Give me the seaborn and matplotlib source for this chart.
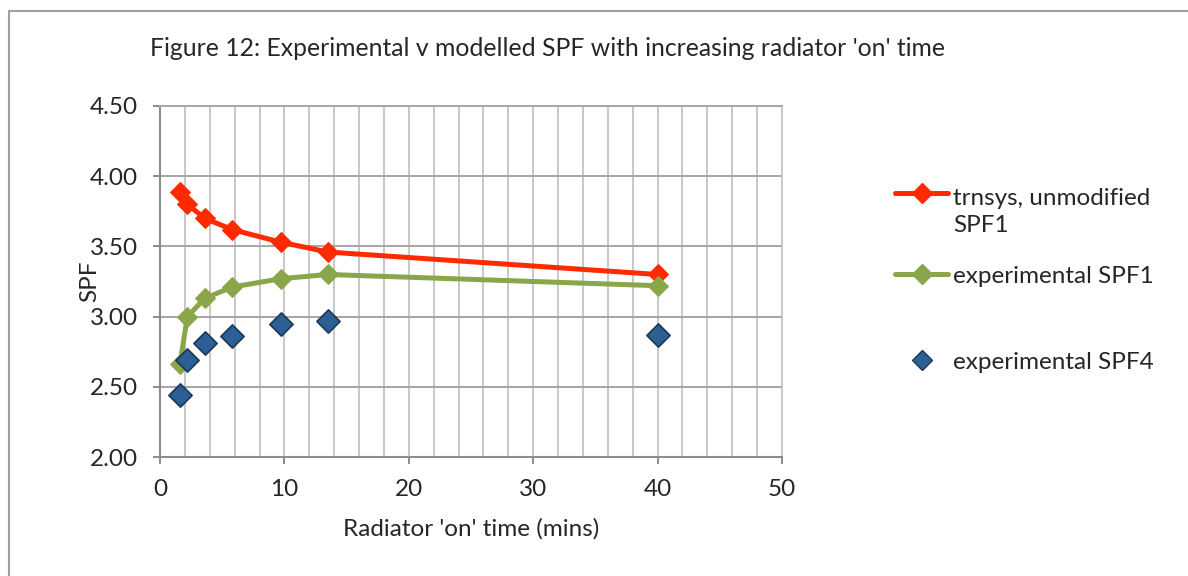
import pandas as pd
import matplotlib.pyplot as plt
from matplotlib.lines import Line2D
from matplotlib.legend_handler import HandlerLine2D
from matplotlib.ticker import MultipleLocator, FormatStrFormatter
import seaborn as sns

sns.set_style("white")
plt.rcParams['font.family'] = ['Lato', 'DejaVu Sans']

# values
on_time = [1.6, 2.2, 3.6, 5.8, 9.7, 13.5, 40.0]
trnsys_spf1 = [3.89, 3.80, 3.70, 3.62, 3.53, 3.46, 3.30]
exp_spf1 = [2.66, 3.00, 3.13, 3.21, 3.27, 3.30, 3.22]
exp_spf4 = [2.44, 2.69, 2.81, 2.86, 2.95, 2.97, 2.87]

labels = ["trnsys, unmodified\nSPF1", "experimental SPF1", "experimental SPF4"]
red, green = "#ff2a00", "#8aa64a"
blue_face, blue_edge = "#2c5f94", "#1b3856"
FS = 17.5


class TopLineHandler(HandlerLine2D):
    # puts the legend key level with the first line of a two-line label
    def __init__(self, shift, **kw):
        super().__init__(**kw)
        self.shift = shift

    def create_artists(self, legend, orig_handle, xdescent, ydescent,
                       width, height, fontsize, trans):
        return super().create_artists(legend, orig_handle, xdescent,
                                      ydescent - 2 * self.shift, width, height,
                                      fontsize, trans)


df = pd.DataFrame({"time": on_time, "trnsys": trnsys_spf1,
                   "spf1": exp_spf1, "spf4": exp_spf4})

W, H = 1188, 576
fig = plt.figure(figsize=(W / 100, H / 100), dpi=100)
ax = fig.add_axes([160 / W, 1 - 457 / H, (782 - 160) / W, (457 - 106) / H])

sns.lineplot(data=df, x="time", y="trnsys", ax=ax, color=red, lw=3.6,
             marker="D", markersize=10, markeredgecolor=red, zorder=3)
sns.lineplot(data=df, x="time", y="spf1", ax=ax, color=green, lw=3.6,
             marker="D", markersize=10, markeredgecolor=green, zorder=3)
sns.scatterplot(data=df, x="time", y="spf4", ax=ax, marker="D", s=140,
                color=blue_face, edgecolor=blue_edge, linewidth=1.2, zorder=4)

ax.set_xlim(0, 50)
ax.set_ylim(2, 4.5)
ax.xaxis.set_major_locator(MultipleLocator(10))
ax.xaxis.set_minor_locator(MultipleLocator(2))
ax.yaxis.set_major_locator(MultipleLocator(0.5))
ax.yaxis.set_major_formatter(FormatStrFormatter("%.2f"))
ax.grid(which="both", axis="x", color="#c8c8c8", lw=1.4)
ax.grid(which="major", axis="y", color="#a6a6a6", lw=1.4)
ax.set_axisbelow(True)

ax.tick_params(which="major", direction="out", length=5, width=1.4,
               color="#8c8c8c", labelsize=FS, pad=11, left=True, bottom=True)
ax.tick_params(which="minor", length=0)
for side in ["left", "bottom"]:
    ax.spines[side].set_color("#8c8c8c")
    ax.spines[side].set_linewidth(1.5)
ax.spines["top"].set_color("#a6a6a6")
ax.spines["top"].set_linewidth(1.4)
ax.spines["right"].set_color("#c8c8c8")
ax.spines["right"].set_linewidth(1.4)

ax.set_xlabel("Radiator 'on' time (mins)", fontsize=FS)
ax.set_ylabel("SPF", fontsize=FS)
ax.xaxis.set_label_coords(0.5, -0.175)
ax.yaxis.set_label_coords(-0.096, 0.5)

fig.text(150 / W, 1 - 48 / H,
         "Figure 12: Experimental v modelled SPF with increasing radiator 'on' time",
         fontsize=17.8, va="center", ha="left")

# legend, split in two so the rows sit where the reference has them
h_red = Line2D([], [], color=red, lw=3.6, marker="D", markersize=10)
h_green = Line2D([], [], color=green, lw=3.6, marker="D", markersize=10)
h_blue = Line2D([], [], ls="none", marker="D", markersize=10,
                markerfacecolor=blue_face, markeredgecolor=blue_edge)
leg_kw = dict(loc="center left", bbox_transform=fig.transFigure, frameon=False,
              fontsize=FS, borderpad=0, borderaxespad=0, handlelength=2.2,
              handletextpad=0.2)
leg1 = ax.legend([h_red, h_green], labels[:2], bbox_to_anchor=(895 / W, 1 - 237.5 / H),
                 labelspacing=1.2, handler_map={h_red: TopLineHandler(14)},
                 **leg_kw)
for t in leg1.get_texts():
    t.set_linespacing(1.35)
ax.add_artist(leg1)
ax.legend([h_blue], labels[2:], bbox_to_anchor=(895 / W, 1 - 362 / H), **leg_kw)

# chart-area border (only left and top edges are visible in the reference)
fig.add_artist(Line2D([9 / W, 9 / W, 1], [0, 1 - 11 / H, 1 - 11 / H],
                      transform=fig.transFigure, color="#a0a0a0", lw=1.5))

fig.savefig("out.png", dpi=100)
